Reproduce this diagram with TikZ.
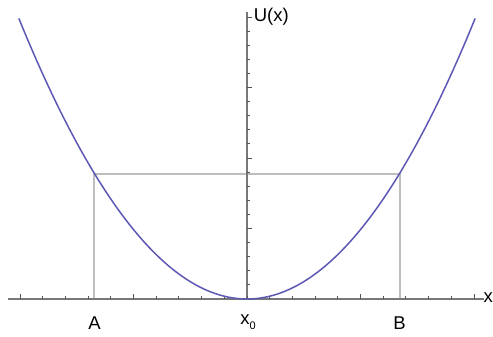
\documentclass[tikz,border=0pt]{standalone}
\usepackage{fontspec}
\setmainfont{Liberation Sans}
\usetikzlibrary{positioning}
\definecolor{potblue}{RGB}{92,88,180}
\definecolor{axisgray}{RGB}{120,120,120}
\definecolor{levelgray}{RGB}{190,190,190}

\begin{document}
\begin{tikzpicture}[x=22.7pt, y=14.1pt, every node/.style={font=\fontsize{18.5}{22}\selectfont, inner sep=1pt}, axis/.style={draw=axisgray, line width=1.5pt}, tick/.style={draw=axisgray!70!black, line width=0.9pt}, level/.style={draw=levelgray, line width=2pt}, pot/.style={draw=potblue, line width=1.5pt}]
\useasboundingbox (-10.881,-2.624) rectangle (10.837,21.206);
% turning points and their feet on the axis
\coordinate (o) at (0,0);
\coordinate (ta) at (-6.72,8.9);
\coordinate (tb) at (6.72,8.9);
\coordinate (fa) at (ta |- o);
\coordinate (fb) at (tb |- o);
% level lines
\draw[level] (fa) -- (ta) -- (tb) -- (fb);
% axes
\coordinate (xl) at (-10.53,0);
\coordinate (xr) at (10.44,0);
\coordinate (yt) at (0,20.35);
\draw[axis] (xl) -- (xr);
\draw[axis] (o) -- (yt);
\foreach \i in {-10,...,10} {\draw[tick] (\i,0) -- (\i,0.2);}
\foreach \i in {-10,-5,5,10} {\draw[tick] (\i,0) -- (\i,0.35);}
\foreach \j in {1,...,20} {\draw[tick] (0,\j) -- (0.12,\j);}
\foreach \j in {5,10,15,20} {\draw[tick] (0,\j) -- (0.2,\j);}
% potential
\draw[pot] plot[domain=-10.05:10.05, samples=80, smooth] (\x,{0.197*\x*\x});
% labels
\node[anchor=west] (ux) at (0.25,20.05) {U(x)};
\node[anchor=east, inner sep=0pt] (xx) at (10.837,0.1) {x};
\node (la) at (-6.72,-1.72) {A};
\node (lb) at (6.72,-1.72) {B};
\node (lx) at (0.05,-1.65) {x\raisebox{-0.45ex}{\fontsize{11}{13}\selectfont 0}};
\end{tikzpicture}
\end{document}
